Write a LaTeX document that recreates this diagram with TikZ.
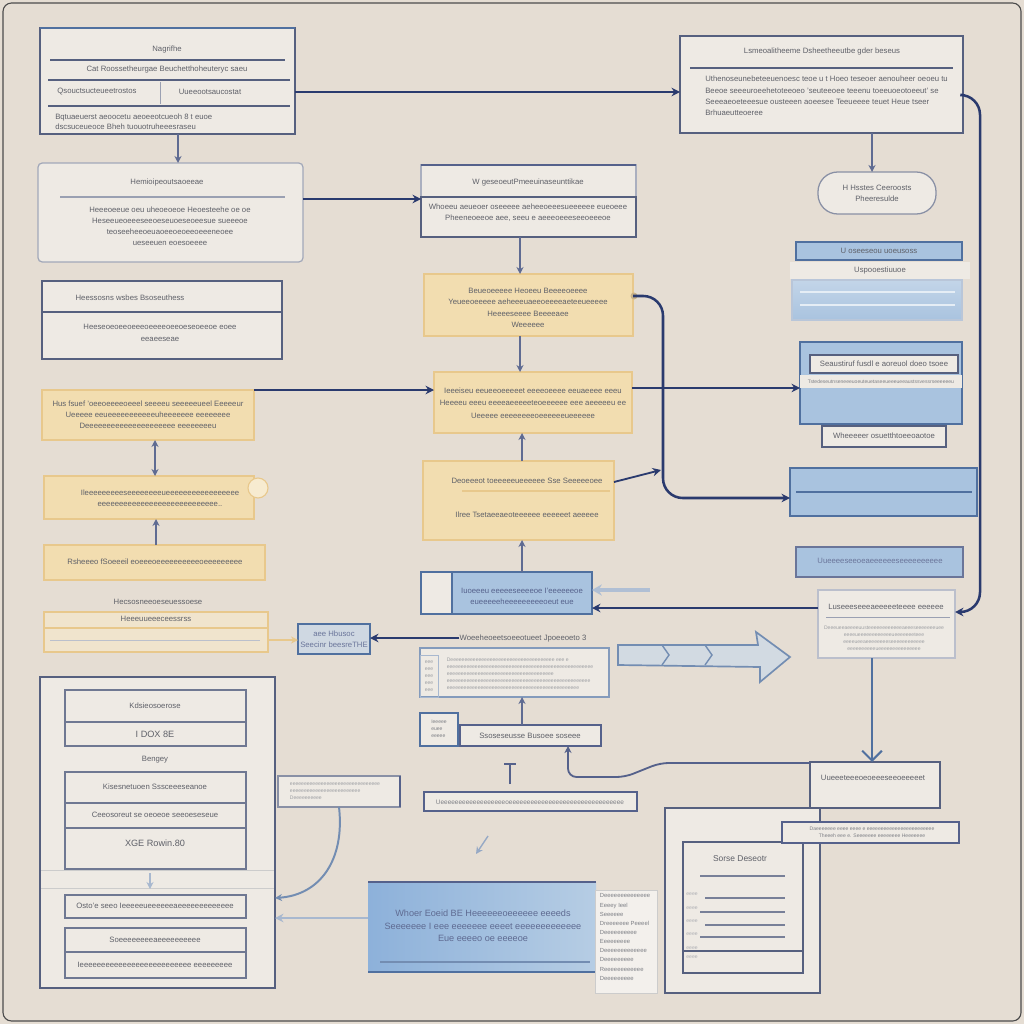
\documentclass[tikz,border=0pt]{standalone}
\usepackage{fontspec}
\setmainfont{Liberation Sans}
\usetikzlibrary{arrows.meta,calc}
\definecolor{bgc}{HTML}{E5DDD3}
\definecolor{paper}{HTML}{EEEAE4}
\definecolor{navy}{HTML}{2A3A6E}
\definecolor{boxline}{HTML}{56607F}
\definecolor{yfill}{HTML}{F2DDB0}
\definecolor{yline}{HTML}{E8C88C}
\definecolor{bfill}{HTML}{A9C3DF}
\definecolor{bline}{HTML}{50709F}
\definecolor{txtc}{HTML}{5E6068}
\definecolor{bbl}{HTML}{8DB1DA}
\definecolor{bbr}{HTML}{B6CDE4}
\newcommand\pbox[6]{\node[#1, anchor=north west, inner sep=0pt, outer sep=0pt, minimum width={(#5-#3)*0.025cm}, minimum height={(#6-#4)*0.025cm}] (#2) at (#3,#4) {};}
\tikzset{
 lbox/.style={draw=boxline, fill=paper, line width=0.9pt},
 ybox/.style={draw=yline, fill=yfill, line width=1pt},
 bbox/.style={draw=bline, fill=bfill, line width=0.9pt},
 txt/.style={text=txtc, font=\fontsize{5.5}{8}\selectfont, inner sep=0pt, align=center},
 stxt/.style={text=txtc!80, font=\fontsize{3.6}{5}\selectfont, inner sep=0pt, align=left},
 conn/.style={draw=navy, line width=1.6pt, -{Stealth[length=6pt,width=6pt]}},
 thinarr/.style={draw=navy!75, line width=1pt, -{Stealth[length=5pt,width=5pt]}},
 rule/.style={draw=boxline, line width=0.9pt},
 cell/.style={draw=boxline!85, fill=paper, line width=0.8pt},
}
\begin{document}
\begin{tikzpicture}[x=0.025cm,y=-0.025cm]
\useasboundingbox (0,0) rectangle (1024,1024);
\fill[bgc] (0,0) rectangle (1024,1024);
\draw[black!70, line width=0.8pt, rounded corners=6pt] (3,3) rectangle (1021,1021);

% ---------- A
\pbox{lbox}{A}{40}{28}{295}{134}
\draw[bline, line width=1.6pt] (A.north west) -- (A.north east);
\node[txt] (a1) at (167,50) {Nagrifhe};
\draw[rule] (50,60) -- (285,60);
\node[txt] (a2) at (167,70) {Cat Roossetheurgae Beuchetthoheuteryc saeu};
\draw[rule] (48,80) -- (290,80);
\node[txt] (a3) at (97,92) {Qsouctsucteueetrostos};
\draw[boxline!60] (160,82) -- (160,104);
\node[txt] (a4) at (210,92) {Uueeootsaucostat};
\draw[rule] (48,106) -- (290,106);
\node[txt, align=left, anchor=west, font=\fontsize{5.5}{7}\selectfont] (a5) at (55,122) {Bqtuaeuerst aeoocetu aeoeeotcueoh 8 t euoe\\dscsuceueoce Bheh tuouotruheeesraseu};

% ---------- B
\pbox{lbox}{B}{680}{36}{963}{133}
\node[txt] (b1) at (822,52) {Lsmeoalitheeme Dsheetheeutbe gder beseus};
\draw[rule, line width=1.4pt] (690,68) -- (953,68);
\node[txt, align=left, anchor=west] (b2) at (705,96) {Uthenoseunebeteeuenoesc teoe u t Hoeo teseoer aenouheer oeoeu tu\\Beeoe seeeuroeehetoteeoeo 'seuteeoee teeenu toeeuoeotoeeut' se\\Seeeaeoeteeesue ousteeen aoeesee Teeueeee teuet Heue tseer\\Brhuaeutteoeree};
\draw[conn] (A.east |- 0,92) -- (B.west |- 0,92);

% ---------- pill
\pbox{lbox, draw=boxline!70, rounded corners=14pt}{pill}{818}{172}{936}{214}
\node[txt] (p1) at (877,193) {H Hsstes Ceeroosts\\Pheeresulde};
\draw[thinarr] (872,0 |- B.south) -- (872,0 |- pill.north);

% ---------- C
\pbox{lbox, draw=boxline!55, rounded corners=3pt}{C}{38}{163}{303}{262}
\node[txt] (c1) at (167,183) {Hemioipeoutsaoeeae};
\draw[rule, draw=boxline!60] (60,197) -- (285,197);
\node[txt, font=\fontsize{5.5}{7.8}\selectfont] (c2) at (170,226) {Heeeoeeue oeu uheoeoeoe Heoesteehe oe oe\\Heseeueoeeeseeoeseuoeseoeesue sueeeoe\\teoseeheeoeuaoeeoeoeeoeeeneoee\\ueseeuen eoesoeeee};
\draw[thinarr] (178,0 |- A.south) -- (178,0 |- C.north);

% ---------- D
\pbox{lbox, draw=boxline!50}{D}{421}{165}{636}{237}
\draw[navy!80, line width=1.8pt] (D.north west) -- (D.north east);
\draw[boxline, line width=1.1pt] (421,197) rectangle (636,237);
\node[txt] (d1) at (528,183) {W geseoeutPmeeuinaseunttikae};
\node[txt] (d2) at (528,213) {Whoeeu aeueoer oseeeee aeheeoeeesueeeeee eueoeee\\Pheeneoeeoe aee, seeu e aeeeoeeeseeoeeeoe};
\draw[conn] (C.east |- 0,199) -- (D.west |- 0,199);

% ---------- E
\pbox{ybox}{E}{424}{274}{633}{336}
\node[txt] (e1) at (528,308) {Beueoeeeee Heoeeu Beeeeoeeee\\Yeueeoeeeee aeheeeuaeeoeeeeaeteeueeeee\\Heeeeseeee Beeeeaee\\Weeeeee};
\draw[thinarr] (520,0 |- D.south) -- (520,0 |- E.north);

% ---------- F
\pbox{ybox}{F}{434}{372}{632}{433}
\node[txt, font=\fontsize{5.5}{9}\selectfont] (f1) at (533,403) {Ieeeiseu eeueeoeeeeet eeeeoeeee eeuaeeee eeeu\\Heeeeu eeeu eeeeaeeeeeteoeeeeee eee aeeeeeu ee\\Ueeeee eeeeeeeeoeeeeeeueeeeee};

% ---------- G
\pbox{ybox}{G}{423}{461}{614}{540}
\node[txt] (g1) at (527,481) {Deoeeeot toeeeeeueeeeee Sse Seeeeeoee};
\draw[yline, line width=1pt] (462,491) -- (610,491);
\node[txt] (g2) at (527,515) {Ilree Tsetaeeaeoteeeeee eeeeeet aeeeee};
\draw[thinarr] (520,0 |- E.south) -- (520,0 |- F.north);
\draw[thinarr] (522,0 |- G.north) -- (522,0 |- F.south);

% ---------- H
\pbox{bbox}{H}{421}{572}{592}{614}
\draw[bline, fill=paper, line width=0.9pt] (421,572) rectangle (452,614);
\node[txt, text=navy!80] (h1) at (522,596) {Iuoeeeu eeeeeseeeeoe I'eeeeeeoe\\eueeeeeheeeeeeeeeoeut eue};
\draw[thinarr] (522,0 |- H.north) -- (522,0 |- G.south);

% ---------- right column
\pbox{bbox}{R1}{796}{242}{962}{260}
\node[txt] (r1) at (879,251) {U oseeseou uoeusoss};
\pbox{fill=paper, draw=none}{R1b}{790}{262}{970}{279}
\node[txt] (r1b) at (880,270) {Uspooestiuuoe};
\pbox{bbox, draw=bline!40, top color=bfill!70!white, bottom color=bfill}{R1c}{792}{280}{962}{320}
\draw[white!70!bfill, line width=1pt] (800,292) -- (955,292);
\draw[white!70!bfill, line width=1pt] (800,305) -- (955,305);

\pbox{bbox}{R2}{800}{342}{962}{424}
\draw[boxline, fill=paper, line width=0.9pt] (810,355) rectangle (958,373);
\node[txt] (r2) at (884,364) {Seaustiruf fusdl e aoreuol doeo tsoee};
\fill[paper] (800,375) rectangle (962,388);
\node[stxt] (r2s) at (881,382) {Tstedeseutnseneeeuoeuteuetaseeueeeueeaustssvessrseeeeeeu};
\pbox{lbox, draw=boxline}{R2c}{822}{426}{946}{447}
\node[txt] (r2c) at (884,436) {Wheeeeer osuetthtoeeoaotoe};

\pbox{bbox}{R3}{790}{468}{977}{516}
\draw[bline, line width=0.8pt] (796,492) -- (972,492);
\pbox{bbox, draw=navy!70}{R4}{796}{547}{963}{577}
\node[txt, text=navy!70] (r4) at (880,561) {Uueeeeseeoeaeeeeeeseeeeeeeeee};

\pbox{lbox, draw=boxline!40}{P}{818}{590}{955}{658}
\node[txt] (p2) at (886,607) {Luseeeseeeaeeeeeteeee eeeeee};
\draw[boxline!60] (826,617) -- (950,617);
\node[stxt, align=center, text=txtc!60] (p3) at (884,638) {Deeeueeaeeeeuusteeeeeeeeeeeeaeeeseeeeeeeuee\\eeeeueeeeeeeeeeeeueeeeeeeteee\\eeeeueeaeeeeeeeeseeeeeeeeeeee\\eeeeeeeeeeueeeeeeeeeeeeeee};

% connectors in the right part
\draw[navy, line width=1.8pt, rounded corners=14pt, -{Stealth[length=6pt,width=6pt]}] (B.east |- 0,95) -- (980,95) -- (980,612) -- (P.east |- 0,612);
\fill[yline!70!gray] (634,296) circle (3.5);
\draw[navy, line width=1.8pt, rounded corners=14pt, -{Stealth[length=6pt,width=6pt]}] (E.east |- 0,296) -- (663,296) -- (663,498) -- (R3.west |- 0,498);
\draw[conn] (F.east |- 0,388) -- (R2.west |- 0,388);
\coordinate (j1) at (661,470);
\draw[conn, line width=1.3pt] (G.east |- 0,482) -- (j1);
\draw[conn, line width=1.4pt] (P.west |- 0,608) -- (H.east |- 0,608);
\coordinate (j2) at (650,590);
\draw[bline!45, line width=2.5pt, -{Stealth[length=7pt,width=8pt]}] (j2) -- (H.east |- 0,590);

% ---------- left column
\pbox{lbox, draw=boxline}{Y0}{42}{281}{282}{359}
\node[txt] (y0a) at (130,298) {Heessosns wsbes Bsoseuthess};
\draw[rule] (42,312) -- (282,312);
\node[txt] (y0b) at (160,333) {Heeseoeoeeoeeeoeeeeoeeoeseoeeoe eoee\\eeaeeseae};

\pbox{ybox}{Y1}{42}{390}{254}{440}
\node[txt, font=\fontsize{5.5}{7.8}\selectfont] (y1) at (148,415) {Hus fsuef 'oeeoeeeeoeeel seeeeu seeeeeueel Eeeeeur\\Ueeeee eeueeeeeeeeeeeuheeeeeee eeeeeeee\\Deeeeeeeeeeeeeeeeeeeee eeeeeeeeu};
\pbox{ybox}{Y2}{44}{476}{254}{519}
\node[txt] (y2) at (160,498) {Ileeeeeeeeeseeeeeeeeueeeeeeeeeeeeeeeee\\eeeeeeeeeeeeeeeeeeeeeeeeeeee..};
\draw[yline, fill=yfill!60, line width=0.8pt] (258,488) circle (10);
\pbox{ybox}{Y3}{44}{545}{265}{580}
\node[txt] (y3) at (155,562) {Rsheeeo fSoeeeil eoeeeoeeeeeeeeeeoeeeeeeeee};
\draw[navy!75, line width=1pt, {Stealth[length=5pt,width=5pt]}-{Stealth[length=5pt,width=5pt]}] (155,0 |- Y1.south) -- (155,0 |- Y2.north);
\draw[thinarr] (156,0 |- Y3.north) -- (156,0 |- Y2.south);
\draw[conn] (Y1.east |- 0,390) -- (F.west |- 0,390);

\node[txt] (y4l) at (158,602) {Hecsosneeoeseuessoese};
\pbox{draw=yline, fill=yfill!45!paper, line width=1pt}{Y4}{44}{612}{268}{652}
\draw[yline, line width=0.8pt] (44,628) -- (268,628);
\node[txt] (y4a) at (156,619) {Heeeuueeeceessrss};
\draw[boxline!40] (50,640) -- (260,640);
\pbox{draw=bline, fill=bfill!45!paper, line width=1pt}{Q}{298}{624}{370}{654}
\node[txt, text=navy!70] (q1) at (334,639) {aee Hbusoc\\Seecinr beesreTHE};
\draw[yline, line width=1.2pt, -{Stealth[length=5pt,width=5pt]}] (Y4.east |- 0,640) -- (Q.west |- 0,640);

% ---------- middle lower
\node[txt] (m0) at (523,638) {Woeeheoeetsoeeotueet Jpoeeoeto 3};
\draw[conn] (m0.west) -- (Q.east |- m0.west);
\pbox{lbox, draw=bline!70}{M1}{420}{648}{609}{697}
\draw[bline!50] (420,655) rectangle (438,697);
\node[stxt, text=txtc!60] (m1) at (520,674) {Deeeeeeeeeeeeeeeeeeeeeeeeeeeeeeeeeeeee eee e\\eeeeeeeeeeeeeeeeeeeeeeeeeeeeeeeeeeeeeeeeeeeeeeeeeeee\\eeeeeeeeeeeeeeeeeeeeeeeeeeeeeeeeeeeeee\\eeeeeeeeeeeeeeeeeeeeeeeeeeeeeeeeeeeeeeeeeeeeeeeeeee\\eeeeeeeeeeeeeeeeeeeeeeeeeeeeeeeeeeeeeeeeeeeeeee};
\node[stxt, text=txtc!60] (m1b) at (429,676) {eee\\eee\\eee\\eee\\eee};
\draw[bline!80, line width=1.2pt, fill=paper!60!bfill] (618,645) -- (758,645) -- (756,632) -- (790,657) -- (760,682) -- (760,667) -- (618,665) -- cycle;
\draw[bline!80, line width=1pt] (662,645) -- (669,655) -- (662,665);
\draw[bline!80, line width=1pt] (705,645) -- (712,655) -- (705,665);

\pbox{lbox, draw=bline}{M2}{420}{713}{458}{746}
\node[stxt] (m2) at (439,729) {Ieeeee\\euee\\eeeee};
\pbox{lbox, draw=navy!80}{M3}{460}{725}{601}{746}
\node[txt] (m3) at (530,736) {Ssoseseusse Busoee soseee};
\draw[thinarr] (522,0 |- M3.north) -- (522,0 |- M1.south);

\pbox{lbox, draw=navy!80}{M4}{424}{792}{637}{811}
\node[stxt, font=\fontsize{4.6}{5}\selectfont] (m4) at (530,802) {Ueeeeeeeeeeeeeeeeeeoeeeeeeeeeeeeeeeeeeeeeeeeeeeeeeee};
\draw[navy!80, line width=1.2pt] (510,0 |- M4.north) ++(0,-8) -- ++(0,-20) ++(-6,0) -- ++(12,0);
\draw[bline!60, line width=1pt, -{Stealth[length=5pt,width=5pt]}] (488,0 |- M4.south) ++(0,25) -- ++(-12,18);

% ---------- R5, docs
\pbox{lbox, draw=boxline}{R5}{810}{762}{940}{808}
\node[txt] (r5) at (873,778) {Uueeeteeeoeoeeeseeoeeeeet};
\draw[bline, line width=1.6pt, -{Straight Barb[length=7pt,width=14pt,line width=1.4pt]}] (872,0 |- P.south) -- (872,0 |- R5.north);
\draw[navy!80, line width=1.3pt, rounded corners=6pt, -{Stealth[length=5pt,width=5pt]}] (R5.west |- 0,763) -- (660,763) -- (625,777) -- (568,777) -- (568,0 |- M3.south);

\pbox{lbox, draw=boxline}{D1}{665}{808}{820}{993}
\draw[boxline, line width=0.9pt] (683,842) rectangle (803,973);
\node[txt, font=\fontsize{6}{7}\selectfont] (d1t) at (740,859) {Sorse Deseotr};
\foreach \yy/\xa in {876/700,898/705,912/700,925/705,937/700,951/710}{\draw[boxline!80, line width=0.8pt] (\xa,\yy) -- (785,\yy);}
\draw[boxline, line width=0.8pt] (683,951) -- (803,951);
\foreach \yy in {894,908,921,934,948,957}{\node[stxt, text=txtc!50] at (692,\yy) {eeee};}
\pbox{lbox, draw=navy!80}{R6}{782}{822}{959}{843}
\node[stxt, align=center] (r6) at (872,832) {Daeeeeeee eeee eeee e eeeeeeeeeeeeeeeeeeeeeeee\\Theeeh eee e. Seeeeeee eeeeeeee Heeeeeee};

% ---------- BB and note
\pbox{draw=none, left color=bbl, right color=bbr}{BB}{368}{882}{596}{972}
\draw[navy!80, line width=1.6pt] (BB.north west) -- (BB.north east);
\draw[bline, line width=0.9pt] (BB.south west) -- (BB.south east);
\draw[bline!80, line width=0.8pt] (380,962) -- (590,962);
\node[txt, text=navy!75, font=\fontsize{6.5}{9}\selectfont] (bb1) at (483,926) {Whoer Eoeid BE Heeeeeeoeeeeee eeeeds\\Seeeeeee I eee eeeeeee eeeet eeeeeeeeeeeee\\Eue eeeeo oe eeeeoe};
\pbox{draw=gray!40, fill=paper!70!white}{N}{595}{890}{657}{993}
\node[stxt, font=\fontsize{4.2}{6.5}\selectfont] (n1) at (625,937) {Deeeeeeeeeeeeee\\Eeeey Ieel\\Seeeeee\\Dreeeeeee Peeeel\\Deeeeeeeeee\\Eeeeeeeee\\Deeeeeeeeeeeee\\Deeeeeeeee\\Reeeeeeeeeeee\\Deeeeeeeee};

% ---------- L panel
\pbox{lbox, draw=boxline}{L}{40}{677}{275}{988}
\pbox{cell}{L1}{65}{690}{246}{722}
\node[txt] (l1) at (155,706) {Kdsieosoerose};
\pbox{cell}{L2}{65}{722}{246}{746}
\node[txt, font=\fontsize{6.5}{8}\selectfont] (l2) at (155,734) {I DOX 8E};
\node[txt] (l3) at (155,760) {Bengey};
\pbox{cell}{L4}{65}{772}{246}{803}
\node[txt] (l4) at (155,787) {Kisesnetuoen Sssceeeseanoe};
\pbox{cell}{L5}{65}{803}{246}{828}
\node[txt] (l5) at (155,815) {Ceeosoreut se oeoeoe seeoeseseue};
\pbox{cell}{L6}{65}{828}{246}{869}
\node[txt, font=\fontsize{6.5}{8}\selectfont] (l6) at (155,843) {XGE Rowin.80};
\draw[gray!40] (41,870) -- (274,870);
\draw[gray!40] (41,888) -- (274,888);
\pbox{cell}{L7}{65}{895}{246}{918}
\node[txt] (l7) at (155,906) {Osto'e seeo Ieeeeeueeeeeeaeeeeeeeeeeeee};
\pbox{cell}{L8}{65}{928}{246}{952}
\node[txt] (l8) at (155,940) {Soeeeeeeeeaeeeeeeeeee};
\pbox{cell}{L9}{65}{952}{246}{978}
\node[txt] (l9) at (155,965) {Ieeeeeeeeeeeeeeeeeeeeeeeeee eeeeeeeee};
\draw[bline!50, line width=1pt, -{Stealth[length=5pt,width=5pt]}] (150,0 |- L6.south) ++(0,4) -- ++(0,16);

\pbox{lbox, draw=boxline!70}{S}{278}{776}{400}{807}
\draw[navy!80, line width=1.6pt] (S.north east) -- (S.south east);
\node[stxt, text=txtc!60] (s1) at (335,791) {eeeeeeeeeeeeeeeeeeeeeeeeeeeeeeee\\eeeeeeeeeeeeeeeeeeeeeeeee\\Deeeeeeeeee};
\draw[bline!80, line width=1.4pt, -{Stealth[length=5pt,width=5pt]}] (S.south) .. controls (345,860) and (320,895) .. (L.east |- 0,898);
\draw[bline!50, line width=2pt, -{Stealth[length=6pt,width=6pt]}] (BB.west |- 0,918) -- (L.east |- 0,918);
\end{tikzpicture}
\end{document}
